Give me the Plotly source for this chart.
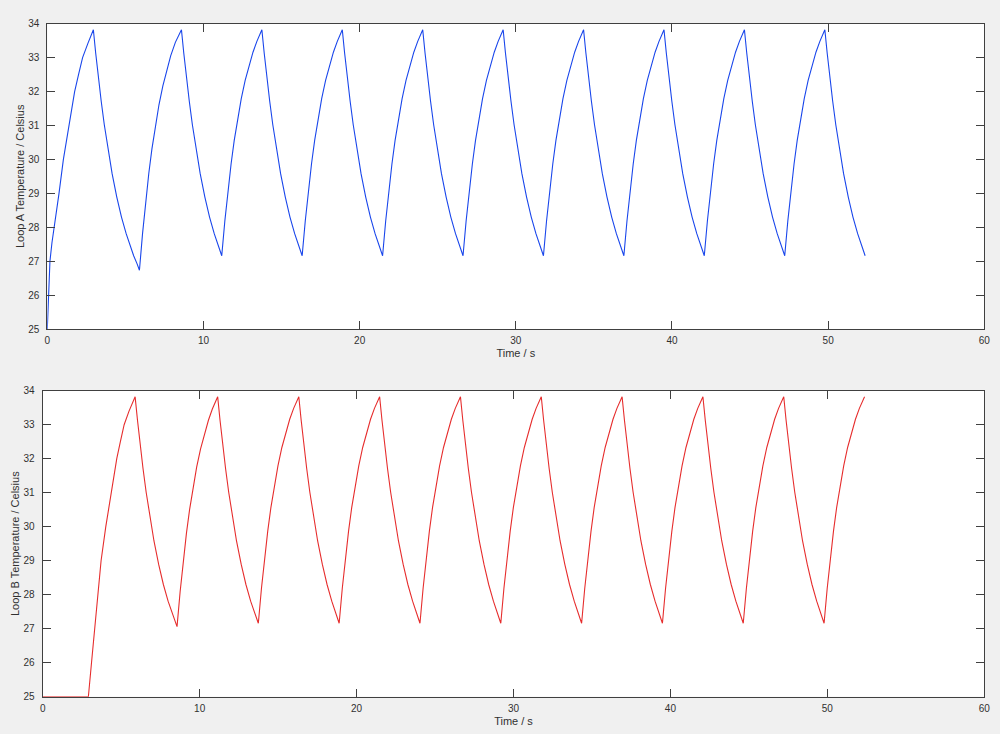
import plotly.graph_objects as go

# ---- Loop A ----
time_a = [
    0.00, 0.08, 0.17, 0.30, 0.45, 0.60, 0.75, 1.03, 1.37, 1.75, 2.00, 2.26, 2.60, 2.95,
    3.10, 3.25, 3.45, 3.65, 3.90, 4.15, 4.45, 4.75, 5.05, 5.30, 5.53, 5.75, 5.90,
    6.10, 6.30, 6.50, 6.70, 6.90, 7.15, 7.40, 7.65, 7.90, 8.20, 8.59,
    8.74, 8.89, 9.09, 9.29, 9.54, 9.79, 10.09, 10.39, 10.69, 10.94, 11.17,
    11.37, 11.57, 11.77, 11.97, 12.17, 12.42, 12.67, 12.92, 13.17, 13.42, 13.74,
    13.89, 14.04, 14.24, 14.44, 14.69, 14.94, 15.24, 15.54, 15.84, 16.09, 16.32,
    16.52, 16.72, 16.92, 17.12, 17.32, 17.57, 17.82, 18.07, 18.32, 18.57, 18.89,
    19.04, 19.19, 19.39, 19.59, 19.84, 20.09, 20.39, 20.69, 20.99, 21.24, 21.47,
    21.67, 21.87, 22.07, 22.27, 22.47, 22.72, 22.97, 23.22, 23.47, 23.72, 24.04,
    24.19, 24.34, 24.54, 24.74, 24.99, 25.24, 25.54, 25.84, 26.14, 26.39, 26.62,
    26.82, 27.02, 27.22, 27.42, 27.62, 27.87, 28.12, 28.37, 28.62, 28.87, 29.19,
    29.34, 29.49, 29.69, 29.89, 30.14, 30.39, 30.69, 30.99, 31.29, 31.54, 31.77,
    31.97, 32.17, 32.37, 32.57, 32.77, 33.02, 33.27, 33.52, 33.77, 34.02, 34.34,
    34.49, 34.64, 34.84, 35.04, 35.29, 35.54, 35.84, 36.14, 36.44, 36.69, 36.92,
    37.12, 37.32, 37.52, 37.72, 37.92, 38.17, 38.42, 38.67, 38.92, 39.17, 39.49,
    39.64, 39.79, 39.99, 40.19, 40.44, 40.69, 40.99, 41.29, 41.59, 41.84, 42.07,
    42.27, 42.47, 42.67, 42.87, 43.07, 43.32, 43.57, 43.82, 44.07, 44.32, 44.64,
    44.79, 44.94, 45.14, 45.34, 45.59, 45.84, 46.14, 46.44, 46.74, 46.99, 47.22,
    47.42, 47.62, 47.82, 48.02, 48.22, 48.47, 48.72, 48.97, 49.22, 49.47, 49.79,
    49.94, 50.09, 50.29, 50.49, 50.74, 50.99, 51.29, 51.59, 51.89, 52.14, 52.37,
]
temp_a = [
    25.00, 26.10, 27.00, 27.55, 28.00, 28.50, 29.00, 30.00, 31.00, 32.00, 32.50, 33.00, 33.42, 33.82,
    33.13, 32.49, 31.72, 31.02, 30.25, 29.58, 28.89, 28.30, 27.81, 27.45, 27.16, 26.92, 26.73,
    27.82, 28.76, 29.59, 30.31, 30.93, 31.61, 32.17, 32.65, 33.05, 33.45, 33.82,
    33.13, 32.49, 31.72, 31.02, 30.25, 29.58, 28.89, 28.30, 27.81, 27.45, 27.16,
    28.19, 29.09, 29.87, 30.56, 31.15, 31.79, 32.33, 32.78, 33.16, 33.48, 33.82,
    33.13, 32.49, 31.72, 31.02, 30.25, 29.58, 28.89, 28.30, 27.81, 27.45, 27.16,
    28.19, 29.09, 29.87, 30.56, 31.15, 31.79, 32.33, 32.78, 33.16, 33.48, 33.82,
    33.13, 32.49, 31.72, 31.02, 30.25, 29.58, 28.89, 28.30, 27.81, 27.45, 27.16,
    28.19, 29.09, 29.87, 30.56, 31.15, 31.79, 32.33, 32.78, 33.16, 33.48, 33.82,
    33.13, 32.49, 31.72, 31.02, 30.25, 29.58, 28.89, 28.30, 27.81, 27.45, 27.16,
    28.19, 29.09, 29.87, 30.56, 31.15, 31.79, 32.33, 32.78, 33.16, 33.48, 33.82,
    33.13, 32.49, 31.72, 31.02, 30.25, 29.58, 28.89, 28.30, 27.81, 27.45, 27.16,
    28.19, 29.09, 29.87, 30.56, 31.15, 31.79, 32.33, 32.78, 33.16, 33.48, 33.82,
    33.13, 32.49, 31.72, 31.02, 30.25, 29.58, 28.89, 28.30, 27.81, 27.45, 27.16,
    28.19, 29.09, 29.87, 30.56, 31.15, 31.79, 32.33, 32.78, 33.16, 33.48, 33.82,
    33.13, 32.49, 31.72, 31.02, 30.25, 29.58, 28.89, 28.30, 27.81, 27.45, 27.16,
    28.19, 29.09, 29.87, 30.56, 31.15, 31.79, 32.33, 32.78, 33.16, 33.48, 33.82,
    33.13, 32.49, 31.72, 31.02, 30.25, 29.58, 28.89, 28.30, 27.81, 27.45, 27.16,
    28.19, 29.09, 29.87, 30.56, 31.15, 31.79, 32.33, 32.78, 33.16, 33.48, 33.82,
    33.13, 32.49, 31.72, 31.02, 30.25, 29.58, 28.89, 28.30, 27.81, 27.45, 27.16,
]

# ---- Loop B ----
time_b = [
    0.00, 2.91,
    3.11, 3.31, 3.51, 3.72, 4.02, 4.36, 4.72, 4.95, 5.19, 5.50, 5.89,
    6.04, 6.19, 6.39, 6.59, 6.84, 7.09, 7.39, 7.69, 7.99, 8.24, 8.47, 8.56,
    8.76, 8.96, 9.16, 9.36, 9.56, 9.81, 10.06, 10.31, 10.56, 10.81, 11.15,
    11.30, 11.45, 11.65, 11.85, 12.10, 12.35, 12.65, 12.95, 13.25, 13.50, 13.74,
    13.94, 14.14, 14.34, 14.54, 14.74, 14.99, 15.24, 15.49, 15.74, 15.99, 16.32,
    16.47, 16.62, 16.82, 17.02, 17.27, 17.52, 17.82, 18.12, 18.42, 18.67, 18.89,
    19.09, 19.29, 19.49, 19.69, 19.89, 20.14, 20.39, 20.64, 20.89, 21.14, 21.47,
    21.62, 21.77, 21.97, 22.17, 22.42, 22.67, 22.97, 23.27, 23.57, 23.82, 24.04,
    24.24, 24.44, 24.64, 24.84, 25.04, 25.29, 25.54, 25.79, 26.04, 26.29, 26.62,
    26.77, 26.92, 27.12, 27.32, 27.57, 27.82, 28.12, 28.42, 28.72, 28.97, 29.19,
    29.39, 29.59, 29.79, 29.99, 30.19, 30.44, 30.69, 30.94, 31.19, 31.44, 31.77,
    31.92, 32.07, 32.27, 32.47, 32.72, 32.97, 33.27, 33.57, 33.87, 34.12, 34.34,
    34.54, 34.74, 34.94, 35.14, 35.34, 35.59, 35.84, 36.09, 36.34, 36.59, 36.92,
    37.07, 37.22, 37.42, 37.62, 37.87, 38.12, 38.42, 38.72, 39.02, 39.27, 39.49,
    39.69, 39.89, 40.09, 40.29, 40.49, 40.74, 40.99, 41.24, 41.49, 41.74, 42.07,
    42.22, 42.37, 42.57, 42.77, 43.02, 43.27, 43.57, 43.87, 44.17, 44.42, 44.64,
    44.84, 45.04, 45.24, 45.44, 45.64, 45.89, 46.14, 46.39, 46.64, 46.89, 47.22,
    47.37, 47.52, 47.72, 47.92, 48.17, 48.42, 48.72, 49.02, 49.32, 49.57, 49.79,
    49.99, 50.19, 50.39, 50.59, 50.79, 51.04, 51.29, 51.54, 51.79, 52.04, 52.37,
]
temp_b = [
    25.00, 25.00,
    26.00, 27.00, 28.00, 29.00, 30.00, 31.00, 32.00, 32.50, 33.00, 33.40, 33.82,
    33.13, 32.49, 31.72, 31.02, 30.25, 29.58, 28.89, 28.30, 27.81, 27.45, 27.16, 27.06,
    28.10, 29.01, 29.81, 30.50, 31.10, 31.75, 32.29, 32.75, 33.13, 33.46, 33.82,
    33.13, 32.49, 31.72, 31.02, 30.25, 29.58, 28.89, 28.30, 27.81, 27.45, 27.16,
    28.19, 29.09, 29.87, 30.56, 31.15, 31.79, 32.33, 32.78, 33.16, 33.48, 33.82,
    33.13, 32.49, 31.72, 31.02, 30.25, 29.58, 28.89, 28.30, 27.81, 27.45, 27.16,
    28.19, 29.09, 29.87, 30.56, 31.15, 31.79, 32.33, 32.78, 33.16, 33.48, 33.82,
    33.13, 32.49, 31.72, 31.02, 30.25, 29.58, 28.89, 28.30, 27.81, 27.45, 27.16,
    28.19, 29.09, 29.87, 30.56, 31.15, 31.79, 32.33, 32.78, 33.16, 33.48, 33.82,
    33.13, 32.49, 31.72, 31.02, 30.25, 29.58, 28.89, 28.30, 27.81, 27.45, 27.16,
    28.19, 29.09, 29.87, 30.56, 31.15, 31.79, 32.33, 32.78, 33.16, 33.48, 33.82,
    33.13, 32.49, 31.72, 31.02, 30.25, 29.58, 28.89, 28.30, 27.81, 27.45, 27.16,
    28.19, 29.09, 29.87, 30.56, 31.15, 31.79, 32.33, 32.78, 33.16, 33.48, 33.82,
    33.13, 32.49, 31.72, 31.02, 30.25, 29.58, 28.89, 28.30, 27.81, 27.45, 27.16,
    28.19, 29.09, 29.87, 30.56, 31.15, 31.79, 32.33, 32.78, 33.16, 33.48, 33.82,
    33.13, 32.49, 31.72, 31.02, 30.25, 29.58, 28.89, 28.30, 27.81, 27.45, 27.16,
    28.19, 29.09, 29.87, 30.56, 31.15, 31.79, 32.33, 32.78, 33.16, 33.48, 33.82,
    33.13, 32.49, 31.72, 31.02, 30.25, 29.58, 28.89, 28.30, 27.81, 27.45, 27.16,
    28.19, 29.09, 29.87, 30.56, 31.15, 31.79, 32.33, 32.78, 33.16, 33.48, 33.82,
]

x_ticks = [0, 10, 20, 30, 40, 50, 60]
y_ticks = [25, 26, 27, 28, 29, 30, 31, 32, 33, 34]
x_title = "Time / s"
y_title_a = "Loop A Temperature / Celsius"
y_title_b = "Loop B Temperature / Celsius"

W, H = 1000, 734
FONT = "Liberation Sans, Arial, Helvetica, sans-serif"
AXC = "#404040"
TXT = "#303030"

fig = go.Figure()
fig.add_trace(go.Scatter(x=time_a, y=temp_a, mode="lines", name="Loop A",
                         line=dict(color="rgb(25,70,235)", width=1.1),
                         xaxis="x", yaxis="y"))
fig.add_trace(go.Scatter(x=time_b, y=temp_b, mode="lines", name="Loop B",
                         line=dict(color="rgb(230,45,45)", width=1.1),
                         xaxis="x2", yaxis="y2"))

def xax(domain, anchor):
    return dict(domain=domain, anchor=anchor, range=[0, 60], tickvals=x_ticks,
                automargin=False,
                showline=True, linecolor=AXC, linewidth=1, mirror="ticks",
                ticks="inside", ticklen=8, tickcolor=AXC, showgrid=False,
                zeroline=False, ticklabelstandoff=2,
                tickfont=dict(family=FONT, size=10, color=TXT),
                title=dict(text=x_title, standoff=4,
                           font=dict(family=FONT, size=11, color=TXT)))

def yax(domain, anchor, title):
    return dict(domain=domain, anchor=anchor, range=[25, 34], tickvals=y_ticks,
                automargin=False,
                showline=True, linecolor=AXC, linewidth=1, mirror="ticks",
                ticks="inside", ticklen=8, tickcolor=AXC, showgrid=False,
                zeroline=False, ticklabelstandoff=5,
                tickfont=dict(family=FONT, size=10, color=TXT),
                title=dict(text=title, standoff=1,
                           font=dict(family=FONT, size=11, color=TXT)))

fig.update_layout(
    width=W, height=H,
    margin=dict(l=0, r=0, t=0, b=0, pad=0),
    paper_bgcolor="#f0f0f0", plot_bgcolor="white",
    showlegend=False,
    xaxis=xax([47.3 / W, 984.3 / W], "y"),
    yaxis=yax([1 - 329 / H, 1 - 23.7 / H], "x", y_title_a),
    xaxis2=xax([42.7 / W, 984.3 / W], "y2"),
    yaxis2=yax([1 - 696.7 / H, 1 - 390.7 / H], "x2", y_title_b),
)

fig.write_html(
    "out.html",
    config={"displayModeBar": False},
    post_script="document.body.style.margin='0';"
                "document.body.style.background='#f0f0f0';"
                "document.documentElement.style.overflow='hidden';",
)
